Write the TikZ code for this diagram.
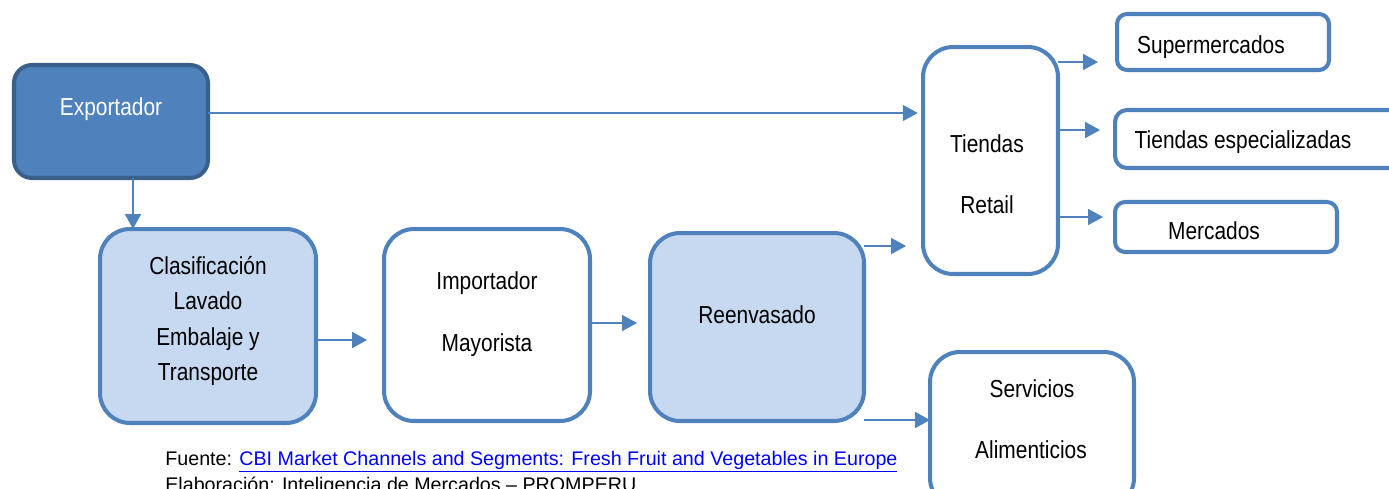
\documentclass[tikz,border=0pt]{standalone}
\usepackage{fontspec}
\setmainfont{Liberation Sans}[FakeStretch=0.85]
\newfontfamily\notafont{Liberation Sans}
\usetikzlibrary{arrows.meta}
\definecolor{azul}{HTML}{4F81BD}
\definecolor{azuloscuro}{HTML}{3A5F8B}
\definecolor{celeste}{HTML}{C6D9F1}
\begin{document}
\begin{tikzpicture}[x=0.02cm, y=-0.02cm, line join=round,
  caja/.style={draw=azul, line width=2.3pt, rectangle, inner sep=0pt, outer sep=0pt, rounded corners=0.6cm},
  texto/.style={anchor=base, inner sep=0pt, font=\fontsize{14}{16}\selectfont},
  nota/.style={anchor=base west, inner sep=0pt, font=\notafont\fontsize{11.2}{13}\selectfont},
  flecha/.style={draw=azul, line width=1.1pt, -{Triangle[length=8.5pt,width=9pt]}}]
\useasboundingbox (0,0) rectangle (1389,488);

% cajas
\node[caja, draw=azuloscuro, fill=azul, rounded corners=0.36cm, minimum width=3.88cm, minimum height=2.26cm] (exp) at (111,121.5) {};
\node[caja, fill=celeste, minimum width=4.32cm, minimum height=3.88cm] (clas) at (208,326) {};
\node[caja, minimum width=4.12cm, minimum height=3.84cm] (imp) at (487,325) {};
\node[caja, fill=celeste, minimum width=4.28cm, minimum height=3.76cm] (reen) at (757,327) {};
\node[caja, minimum width=2.70cm, minimum height=4.54cm] (tien) at (990.5,160.5) {};
\node[caja, rounded corners=0.2cm, minimum width=4.24cm, minimum height=1.12cm] (sup) at (1223,42) {};
\node[caja, rounded corners=0.24cm, minimum width=5.72cm, minimum height=1.16cm] (esp) at (1258,139) {};
\node[caja, rounded corners=0.2cm, minimum width=4.44cm, minimum height=1.00cm] (mer) at (1226,227) {};
\node[caja, minimum width=4.08cm, minimum height=3.12cm] (serv) at (1032,430) {};

% textos
\node[texto, text=white] (expt) at (111,115) {Exportador};
\node[texto] (clas1) at (208,274) {Clasificación};
\node[texto] (clas2) at (208,309) {Lavado};
\node[texto] (clas3) at (208,345) {Embalaje y};
\node[texto] (clas4) at (208,380) {Transporte};
\node[texto] (imp1) at (487,289) {Importador};
\node[texto] (imp2) at (487,351) {Mayorista};
\node[texto] (reent) at (757,323) {Reenvasado};
\node[texto] (tien1) at (987,152) {Tiendas};
\node[texto] (tien2) at (987,213) {Retail};
\node[texto] (supt) at (1211,53) {Supermercados};
\node[texto] (espt) at (1243,148) {Tiendas especializadas};
\node[texto] (mert) at (1214,239) {Mercados};
\node[texto] (serv1) at (1032,397) {Servicios};
\node[texto] (serv2) at (1031,458) {Alimenticios};

% flechas
\draw[flecha, shorten >=3pt] (exp.east |- 0,113) -- (tien.west |- 0,113);
\draw[flecha] (exp.south -| 133,0) -- (clas.north -| 133,0);
\draw[flecha, shorten >=9.6pt] (clas.east |- 0,340) -- (imp.west |- 0,340);
\draw[flecha, shorten >=7.4pt] (imp.east |- 0,323) -- (reen.west |- 0,323);
\draw[flecha, shorten >=9.6pt] (reen.east |- 0,246) -- (tien.west |- 0,246);
\draw[flecha] (reen.south east |- 0,420) -- (serv.west |- 0,420);
\draw[flecha, shorten >=10.8pt] (tien.east |- 0,62) -- (sup.west |- 0,62);
\draw[flecha, shorten >=8.5pt] (tien.east |- 0,130) -- (esp.west |- 0,130);
\draw[flecha, shorten >=6.8pt] (tien.east |- 0,217) -- (mer.west |- 0,217);

% fuente
\node[nota] (fuente) at (165,465) {Fuente: \textcolor{blue}{\underline{CBI Market Channels and Segments: Fresh Fruit and Vegetables in Europe}}};
\node[nota] (elab) at (165,491) {Elaboración: Inteligencia de Mercados – PROMPERU};
\end{tikzpicture}
\end{document}
